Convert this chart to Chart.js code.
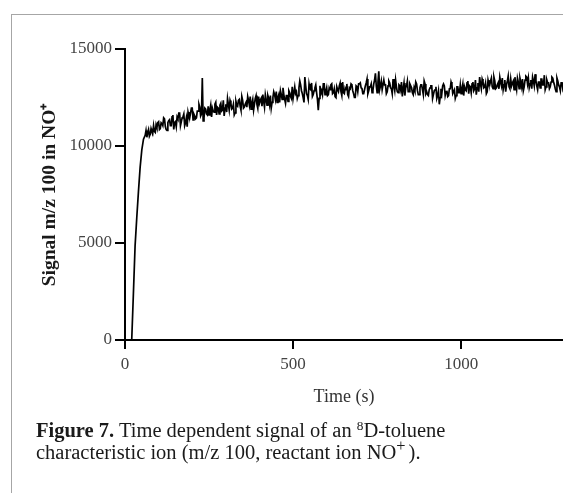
<!DOCTYPE html>
<html lang="en">
<head>
    <meta charset="UTF-8">
    <title>Figure 7 - m/z 100 signal</title>
    <script src="https://cdn.jsdelivr.net/npm/chart.js"></script>
    <style>
        body {
            margin: 0;
            background: #fff;
            font-family: "Liberation Serif", "Times New Roman", serif;
        }
        .frame {
            position: absolute;
            left: 11px;
            top: 14px;
            width: 600px;
            height: 520px;
            border-top: 1px solid #a6a6a6;
            border-left: 1px solid #a6a6a6;
        }
        #signalChart {
            position: absolute;
            left: 0;
            top: 0;
        }
        .caption {
            position: absolute;
            left: 36px;
            top: 419px;
            font-size: 20.5px;
            line-height: 22px;
            color: #1a1a1a;
            white-space: nowrap;
        }
        .caption sup {
            font-size: 0.65em;
            vertical-align: 0.5em;
            line-height: 0;
        }
        .caption .plus {
            font-size: 0.8em;
            margin-right: 3px;
        }
    </style>
</head>
<body>
    <div class="frame"></div>
    <canvas id="signalChart" width="563" height="420"></canvas>
    <div class="caption">
        <b>Figure 7.</b> Time dependent signal of an <sup>8</sup>D-toluene<br>
        characteristic ion (m/z 100, reactant ion NO<sup class="plus">+</sup>).
    </div>

    <script>
        // time in seconds
        const times = [
            0, 5, 10, 15, 20, 25, 30, 35, 40, 45, 50, 55,
            60, 62.5, 65, 67.5, 70, 72.5, 75, 77.5, 80, 82.5,
            85, 87.5, 90, 92.5, 95, 97.5, 100, 102.5, 105, 107.5,
            110, 112.5, 115, 117.5, 120, 122.5, 125, 127.5, 130, 132.5,
            135, 137.5, 140, 142.5, 145, 147.5, 150, 152.5, 155, 157.5,
            160, 162.5, 165, 167.5, 170, 172.5, 175, 177.5, 180, 182.5,
            185, 187.5, 190, 192.5, 195, 197.5, 200, 202.5, 205, 207.5,
            210, 212.5, 215, 217.5, 220, 222.5, 225, 227.5, 230, 232.5,
            235, 237.5, 240, 242.5, 245, 247.5, 250, 252.5, 255, 257.5,
            260, 262.5, 265, 267.5, 270, 272.5, 275, 277.5, 280, 282.5,
            285, 287.5, 290, 292.5, 295, 297.5, 300, 302.5, 305, 307.5,
            310, 312.5, 315, 317.5, 320, 322.5, 325, 327.5, 330, 332.5,
            335, 337.5, 340, 342.5, 345, 347.5, 350, 352.5, 355, 357.5,
            360, 362.5, 365, 367.5, 370, 372.5, 375, 377.5, 380, 382.5,
            385, 387.5, 390, 392.5, 395, 397.5, 400, 402.5, 405, 407.5,
            410, 412.5, 415, 417.5, 420, 422.5, 425, 427.5, 430, 432.5,
            435, 437.5, 440, 442.5, 445, 447.5, 450, 452.5, 455, 457.5,
            460, 462.5, 465, 467.5, 470, 472.5, 475, 477.5, 480, 482.5,
            485, 487.5, 490, 492.5, 495, 497.5, 500, 502.5, 505, 507.5,
            510, 512.5, 515, 517.5, 520, 522.5, 525, 527.5, 530, 532.5,
            535, 537.5, 540, 542.5, 545, 547.5, 550, 552.5, 555, 557.5,
            560, 562.5, 565, 567.5, 570, 572.5, 575, 577.5, 580, 582.5,
            585, 587.5, 590, 592.5, 595, 597.5, 600, 602.5, 605, 607.5,
            610, 612.5, 615, 617.5, 620, 622.5, 625, 627.5, 630, 632.5,
            635, 637.5, 640, 642.5, 645, 647.5, 650, 652.5, 655, 657.5,
            660, 662.5, 665, 667.5, 670, 672.5, 675, 677.5, 680, 682.5,
            685, 687.5, 690, 692.5, 695, 697.5, 700, 702.5, 705, 707.5,
            710, 712.5, 715, 717.5, 720, 722.5, 725, 727.5, 730, 732.5,
            735, 737.5, 740, 742.5, 745, 747.5, 750, 752.5, 755, 757.5,
            760, 762.5, 765, 767.5, 770, 772.5, 775, 777.5, 780, 782.5,
            785, 787.5, 790, 792.5, 795, 797.5, 800, 802.5, 805, 807.5,
            810, 812.5, 815, 817.5, 820, 822.5, 825, 827.5, 830, 832.5,
            835, 837.5, 840, 842.5, 845, 847.5, 850, 852.5, 855, 857.5,
            860, 862.5, 865, 867.5, 870, 872.5, 875, 877.5, 880, 882.5,
            885, 887.5, 890, 892.5, 895, 897.5, 900, 902.5, 905, 907.5,
            910, 912.5, 915, 917.5, 920, 922.5, 925, 927.5, 930, 932.5,
            935, 937.5, 940, 942.5, 945, 947.5, 950, 952.5, 955, 957.5,
            960, 962.5, 965, 967.5, 970, 972.5, 975, 977.5, 980, 982.5,
            985, 987.5, 990, 992.5, 995, 997.5, 1000, 1002.5, 1005, 1007.5,
            1010, 1012.5, 1015, 1017.5, 1020, 1022.5, 1025, 1027.5, 1030, 1032.5,
            1035, 1037.5, 1040, 1042.5, 1045, 1047.5, 1050, 1052.5, 1055, 1057.5,
            1060, 1062.5, 1065, 1067.5, 1070, 1072.5, 1075, 1077.5, 1080, 1082.5,
            1085, 1087.5, 1090, 1092.5, 1095, 1097.5, 1100, 1102.5, 1105, 1107.5,
            1110, 1112.5, 1115, 1117.5, 1120, 1122.5, 1125, 1127.5, 1130, 1132.5,
            1135, 1137.5, 1140, 1142.5, 1145, 1147.5, 1150, 1152.5, 1155, 1157.5,
            1160, 1162.5, 1165, 1167.5, 1170, 1172.5, 1175, 1177.5, 1180, 1182.5,
            1185, 1187.5, 1190, 1192.5, 1195, 1197.5, 1200, 1202.5, 1205, 1207.5,
            1210, 1212.5, 1215, 1217.5, 1220, 1222.5, 1225, 1227.5, 1230, 1232.5,
            1235, 1237.5, 1240, 1242.5, 1245, 1247.5, 1250, 1252.5, 1255, 1257.5,
            1260, 1262.5, 1265, 1267.5, 1270, 1272.5, 1275, 1277.5, 1280, 1282.5,
            1285, 1287.5, 1290, 1292.5, 1295, 1297.5, 1300, 1302.5, 1305
        ];

        // signal m/z 100
        const signal = [
            0, 0, 0, 0, 0, 2400, 4850, 6300, 7650, 8900, 9800, 10350,
            10550, 10800, 10450, 10700, 10850, 10500, 10600, 10900, 10750, 10650,
            11050, 10750, 10700, 11100, 10950, 11200, 11250, 10850, 10900, 11200,
            11150, 11050, 11450, 11400, 11000, 10850, 10800, 11200, 11300, 11350,
            11050, 11050, 11500, 11600, 10850, 11200, 11250, 11000, 11500, 11400,
            11700, 11700, 11050, 11250, 11450, 11500, 11650, 11050, 11200, 11450,
            11000, 11750, 11550, 11450, 11700, 11950, 11950, 11350, 11650, 11550,
            11400, 11450, 11800, 11800, 12150, 12000, 11550, 11650, 13500, 11300,
            11450, 11950, 11900, 11650, 11600, 12050, 11600, 11850, 12100, 11500,
            11950, 11800, 11750, 12150, 12250, 11600, 12000, 11950, 11650, 12100,
            12200, 11800, 11850, 12350, 11550, 11950, 12150, 11750, 12450, 12150,
            11850, 12350, 12200, 11900, 11950, 12150, 11600, 11700, 12300, 12100,
            12050, 12350, 12400, 12050, 11850, 12550, 12350, 11950, 12000, 12150,
            12250, 12000, 12550, 12350, 12100, 12550, 11900, 12200, 12400, 11850,
            12150, 12450, 12600, 12150, 11950, 12550, 12200, 12350, 12450, 12050,
            12650, 12300, 12000, 12650, 12400, 12100, 12600, 12450, 12150, 12600,
            11950, 12250, 12500, 12800, 12650, 12400, 12800, 12250, 12500, 12650,
            12250, 12850, 12650, 12400, 13000, 12650, 12400, 12200, 12600, 12600,
            12300, 12850, 12750, 12550, 12450, 13050, 12450, 12450, 13050, 12700,
            12800, 12450, 12600, 13000, 13350, 13150, 12850, 12700, 12500, 12250,
            13550, 13100, 12700, 12600, 12400, 13200, 12950, 12900, 13250, 12550,
            12650, 12850, 13000, 13150, 12750, 12400, 11850, 12450, 13100, 12700,
            12850, 12650, 13200, 13200, 12650, 12800, 13000, 12600, 12650, 13000,
            12900, 13150, 13200, 12700, 12750, 12950, 12550, 12500, 13050, 12900,
            12800, 13100, 13250, 12800, 12600, 13300, 12750, 12700, 13000, 12900,
            13200, 12650, 12550, 13000, 12950, 13200, 13150, 12850, 12700, 12500,
            12500, 13100, 13050, 12800, 13200, 13200, 13250, 13000, 12950, 12700,
            12700, 12900, 13100, 13250, 13450, 12700, 12850, 13050, 13050, 13200,
            12750, 12850, 13200, 13400, 13750, 13100, 12750, 13300, 13850, 12900,
            13100, 13350, 12900, 12900, 13400, 13150, 13150, 12700, 12800, 13100,
            13350, 13250, 13000, 12950, 12700, 13450, 13100, 12850, 13400, 13050,
            12800, 12750, 13150, 13100, 12900, 13300, 12550, 12950, 13250, 12600,
            13000, 13100, 13350, 12800, 12800, 13200, 13100, 13000, 12750, 12650,
            13000, 12850, 13300, 13200, 12850, 12650, 12650, 13000, 13150, 13150,
            12900, 12650, 13350, 13200, 12700, 12800, 12650, 12600, 12900, 13000,
            13100, 13100, 12450, 12650, 12850, 12900, 13050, 12450, 12600, 12850,
            12150, 12500, 12950, 12700, 13100, 13200, 13100, 12600, 12800, 12850,
            12550, 12600, 12950, 12950, 13300, 13150, 12700, 12800, 12900, 12450,
            12600, 13050, 13050, 12750, 12750, 13150, 12700, 12950, 13200, 12600,
            13050, 12900, 12850, 13250, 13350, 12700, 13100, 13050, 12750, 13200,
            13300, 12850, 12950, 13400, 12650, 13000, 13250, 12800, 13550, 13200,
            12950, 13450, 13300, 13000, 13050, 13250, 12700, 12800, 13400, 13200,
            13150, 13350, 13500, 13050, 12950, 13550, 13350, 12950, 13000, 13150,
            13250, 12950, 13550, 13300, 13100, 13500, 12900, 13150, 13400, 12800,
            13150, 13350, 13600, 13050, 12950, 13450, 13100, 13250, 13350, 12900,
            13550, 13150, 12900, 13500, 13300, 12950, 13500, 13300, 13050, 13450,
            12850, 13050, 13400, 13600, 13550, 13200, 13500, 13000, 13200, 13400,
            12950, 13550, 13350, 13100, 13700, 13350, 13100, 12900, 13300, 13300,
            13000, 13450, 13450, 13150, 13150, 13650, 12900, 13050, 13400, 13250,
            13250, 12950, 13050, 13300, 13550, 13500, 13300, 13150, 12950, 12800,
            13500, 13350, 13150, 13050, 12850, 13250, 13300, 12950, 13100
        ];

        const xTicks = [0, 500, 1000];
        const yTicks = [0, 5000, 10000, 15000];
        const xMax = 1303;

        const points = times.map((t, i) => ({ x: t, y: signal[i] }));

        const tickFont = { family: '"Liberation Serif", serif', size: 17 };

        new Chart(document.getElementById('signalChart'), {
            type: 'line',
            data: {
                datasets: [{
                    data: points,
                    borderColor: '#000',
                    borderWidth: 1.7,
                    pointRadius: 0,
                    tension: 0,
                    fill: false
                }]
            },
            options: {
                responsive: false,
                animation: false,
                devicePixelRatio: 1,
                layout: { padding: { top: 49, left: 0, right: 0, bottom: 0 } },
                plugins: {
                    legend: { display: false },
                    tooltip: { enabled: false }
                },
                scales: {
                    x: {
                        type: 'linear',
                        min: 0,
                        max: xMax,
                        afterBuildTicks: (scale) => {
                            scale.ticks = xTicks.map(v => ({ value: v }));
                        },
                        afterFit: (scale) => { scale.height = 80; },
                        ticks: {
                            font: tickFont,
                            color: '#444',
                            padding: 5,
                            maxRotation: 0,
                            callback: (v) => String(v)
                        },
                        grid: {
                            drawOnChartArea: false,
                            drawTicks: true,
                            tickLength: 9,
                            color: '#000',
                            lineWidth: 2
                        },
                        border: { display: true, color: '#000', width: 2 },
                        title: {
                            display: true,
                            text: 'Time (s)',
                            color: '#333',
                            font: { family: '"Liberation Serif", serif', size: 18 },
                            padding: { top: 0, bottom: 12 }
                        }
                    },
                    y: {
                        min: 0,
                        max: 15000,
                        afterBuildTicks: (scale) => {
                            scale.ticks = yTicks.map(v => ({ value: v }));
                        },
                        afterFit: (scale) => { scale.width = 125; },
                        ticks: {
                            font: tickFont,
                            color: '#444',
                            padding: 3,
                            callback: (v) => String(v)
                        },
                        grid: {
                            drawOnChartArea: false,
                            drawTicks: true,
                            tickLength: 10,
                            color: '#000',
                            lineWidth: 2
                        },
                        border: { display: true, color: '#000', width: 2 },
                        title: {
                            display: true,
                            text: 'Signal m/z 100 in NO\u207A',
                            color: '#1a1a1a',
                            font: { family: '"Liberation Serif", serif', size: 19.5, weight: 'bold' },
                            padding: { top: 38, bottom: 0 }
                        }
                    }
                }
            }
        });
    </script>
</body>
</html>
